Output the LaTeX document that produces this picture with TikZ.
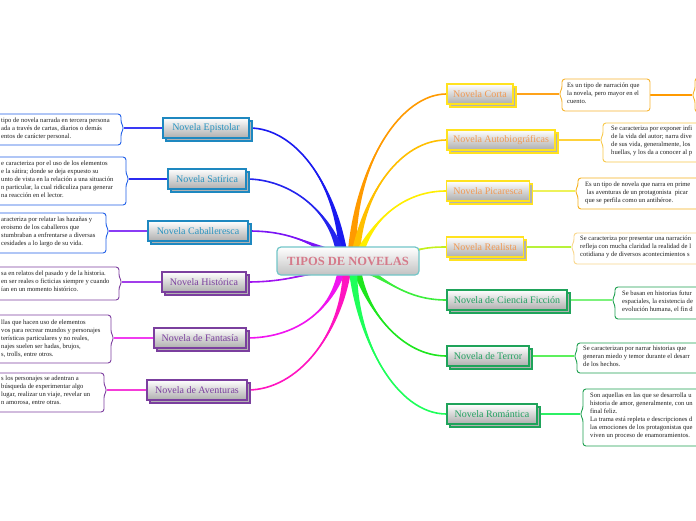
\documentclass[tikz,border=0pt]{standalone}
\usepackage{fontspec}
\setmainfont{Liberation Serif}
\usetikzlibrary{calc,shadows}
\pgfdeclarelayer{back}
\pgfdeclarelayer{bg}
\pgfsetlayers{back,bg,main}
% node colours
\definecolor{nblue}{HTML}{1E88C0}
\definecolor{tblue}{HTML}{2A93BF}
\definecolor{npurp}{HTML}{7B3F9E}
\definecolor{nyel}{HTML}{FFE21F}
\definecolor{tora}{HTML}{F09A55}
\definecolor{ngreen}{HTML}{1FA35A}
\definecolor{tgreen}{HTML}{22A060}
\definecolor{cteal}{HTML}{72C6C8}
\definecolor{cpink}{HTML}{D57A8A}
% description box colours
\definecolor{dblue}{HTML}{2060E8}
\definecolor{dpurp}{HTML}{7E3FA0}
\definecolor{dora}{HTML}{F7B531}
\definecolor{dyel}{HTML}{F8C94A}
\definecolor{dora2}{HTML}{F6B21E}
\definecolor{dlight}{HTML}{F9D78C}
\definecolor{dgreen}{HTML}{1FA050}
% thin links
\definecolor{lEp}{HTML}{3A3AF5}
\definecolor{lSa}{HTML}{2B2BF0}
\definecolor{lCa}{HTML}{8A3CF5}
\definecolor{lHi}{HTML}{A23EEA}
\definecolor{lFa}{HTML}{F03CF0}
\definecolor{lAv}{HTML}{F43CD8}
\definecolor{lCo}{HTML}{FFA31A}
\definecolor{lAu}{HTML}{FFD23A}
\definecolor{lPi}{HTML}{EEF25A}
\definecolor{lRe}{HTML}{B8F23A}
\definecolor{lCi}{HTML}{7CF27C}
\definecolor{lTe}{HTML}{5CF05C}
\definecolor{lRo}{HTML}{2CF064}
% thick branches
\definecolor{bEp}{HTML}{1A1AF0}
\definecolor{bSa}{HTML}{2424EE}
\definecolor{bCa}{HTML}{7A14F5}
\definecolor{bHi}{HTML}{A014F0}
\definecolor{bFa}{HTML}{F014F0}
\definecolor{bAv}{HTML}{FF14C0}
\definecolor{bCo}{HTML}{FF9A00}
\definecolor{bAu}{HTML}{FFBF00}
\definecolor{bPi}{HTML}{FFEE00}
\definecolor{bRe}{HTML}{C4F01C}
\definecolor{bCi}{HTML}{3CEE3C}
\definecolor{bTe}{HTML}{1EE61E}
\definecolor{bRo}{HTML}{1EFF5A}

\tikzset{
  topic/.style={draw=#1, line width=1.2pt, top color=white, bottom color=black!32,
    minimum height=20pt, inner sep=0pt, font=\fontsize{10}{12}\selectfont,
    general shadow={shadow xshift=3pt, shadow yshift=-3pt, fill=black!30, draw=#1, line width=1.2pt}},
  hub/.style={draw=cteal, line width=1.2pt, rounded corners=4pt, top color=white, bottom color=black!24,
    minimum width=142pt, minimum height=28pt, inner sep=0pt, text=cpink,
    font=\bfseries\fontsize{12.5}{14}\selectfont},
  descbox/.style={draw=#1, fill=white, line width=0.9pt, rounded corners=3pt},
  dtext/.style={anchor=north west, inner sep=0pt, align=left, text=black!88,
    font=\fontsize{6.6}{8}\selectfont, execute at begin node=\strut},
  lnk/.style={draw=#1, line width=1.1pt},
}

% tapered branch: colour, start, c1 offset, c2 offset, end, half width
\newcommand\branch[6]{%
  \fill[#1] (#2) .. controls ($(#2)+(#3)$) and ($(#5)+(#4)$) .. ($(#5)+(#6)$)
     -- ($(#5)-(#6)$) .. controls ($(#5)+(#4)$) and ($(#2)+(#3)$) .. (#2) -- cycle;
  \draw[#1, line width=1.6pt] (#2) .. controls ($(#2)+(#3)$) and ($(#5)+(#4)$) .. (#5);}
% description box with notch on the right: colour, right x, top, bottom, notch y
\newcommand\ldescbox[5]{%
  \draw[descbox=#1] (-20,#3) -- (#2,#3) -- (#2,#5-5) -- (#2+3,#5) -- (#2,#5+5) -- (#2,#4) -- (-20,#4) -- cycle;}
% description box with notch on the left: colour, left x, top, bottom, notch y
\newcommand\rdescbox[5]{%
  \draw[descbox=#1] (#2,#3) -- (730,#3) -- (730,#4) -- (#2,#4) -- (#2,#5+5) -- (#2-3,#5) -- (#2,#5-5) -- cycle;}

\begin{document}
\begin{tikzpicture}[x=1pt,y=-1pt]
\useasboundingbox (0,0) rectangle (696,520);
\begin{pgfonlayer}{back}
\fill[white] (0,0) rectangle (696,520);
\end{pgfonlayer}
\clip (0,0) rectangle (696,520);

% ---------- description boxes (left) ----------
\ldescbox{dblue}{121}{114}{145}{128}
\coordinate (epn) at (124,128);
\node[dtext] (ept) at (1,118) {tipo de novela narrada en tercera persona\\ada a través de cartas, diarios o demás\\entos de carácter personal.};
\ldescbox{dblue}{126}{157}{205}{179}
\coordinate (san) at (129,179);
\node[dtext] (sat) at (1,161) {e caracteriza por el uso de los elementos\\e la sátira; donde se deja expuesto su\\unto de vista en la relación a una situación\\n particular, la cual ridiculiza para generar\\na reacción en el lector.};
\ldescbox{dblue}{106}{213}{253}{231}
\coordinate (can) at (109,231);
\node[dtext] (cat) at (1,217) {aracteriza por relatar las hazañas y\\eroismo de los caballeros que\\stumbraban a enfrentarse a diversas\\cesidades a lo largo de su vida.};
\ldescbox{dpurp}{119}{267}{300}{282}
\coordinate (hin) at (122,282);
\node[dtext] (hit) at (1,271) {sa en relatos del pasado y de la historia.\\en ser reales o ficticias siempre y cuando\\ían en un momento histórico.};
\ldescbox{dpurp}{111}{315}{363}{338}
\coordinate (fan) at (114,338);
\node[dtext] (fat) at (1,320) {llas que hacen uso de elementos\\vos para recrear mundos y personajes\\terísticas particulares y no reales,\\najes suelen ser hadas, brujos,\\s, trolls, entre otros.};
\ldescbox{dpurp}{104}{373}{412}{390}
\coordinate (avn) at (107,390);
\node[dtext] (avt) at (1,376) {s los personajes se adentran a\\búsqueda de experimentar algo\\lugar, realizar un viaje, revelar un\\n amorosa, entre otras.};

% ---------- description boxes (right) ----------
\draw[descbox=dora] (562,79) -- (650,79) -- (650,111) -- (562,111) -- (562,99) -- (559,94) -- (562,89) -- cycle;
\coordinate (con) at (559,94);
\coordinate (cor) at (650,95);
\node[dtext] (cot) at (567,83) {Es un tipo de narración que\\la novela, pero mayor en el\\cuento.};
\draw[descbox=dora] (695,78) -- (730,78) -- (730,112) -- (695,112) -- (695,100) -- (692,95) -- (695,90) -- cycle;
\coordinate (co2n) at (692,95);
\rdescbox{dyel}{603}{123}{162}{140}
\coordinate (aun) at (600,140);
\node[dtext] (aut) at (611,125.5) {Se caracteriza por exponer infi\\de la vida del autor; narra dive\\de sus vida, generalmente, los\\huellas, y los da a conocer al p};
\rdescbox{dora2}{578}{178}{209}{191}
\coordinate (pin) at (575,191);
\node[dtext] (pit) at (585,182) {Es un tipo de novela que narra en prime\\\ las aventuras de un protagonista\ \ picar\\que se perfila como un antihéroe.};
\rdescbox{dlight}{574}{233}{264}{247}
\coordinate (ren) at (571,247);
\node[dtext] (ret) at (580,236) {Se caracteriza por presentar una narración\\refleja con mucha claridad la realidad de l\\cotidiana y de diversos acontecimientos s};
\rdescbox{dgreen}{615}{287}{319}{300}
\coordinate (cin) at (612,300);
\node[dtext] (cit) at (622,291) {Se basan en historias futur\\espaciales, la existencia de\\evolución humana, el fin d};
\rdescbox{dgreen}{577}{343}{373}{356}
\coordinate (ten) at (574,356);
\node[dtext] (tet) at (583,346) {Se caracterizan por narrar historias que\\generan miedo y temor durante el desarr\\de los hechos.};
\rdescbox{dgreen}{583}{389}{446}{414}
\coordinate (ron) at (580,414);
\node[dtext] (rot) at (590,393) {Son aquellas en las que se desarrolla u\\historia de amor, generalmente, con un\\final feliz.\\La trama está repleta e descripciones d\\las emociones de los protagonistas que\\viven un proceso de enamoramientos.};

% ---------- topic nodes ----------
\node[topic=nblue, text=tblue, minimum width=86pt] (ep) at (206,128) {Novela Epistolar};
\node[topic=nblue, text=tblue, minimum width=78pt] (sa) at (207,179) {Novela Satírica};
\node[topic=nblue, text=tblue, minimum width=100pt] (ca) at (198,231) {Novela Caballeresca};
\node[topic=npurp, text=npurp, minimum width=84pt] (hi) at (204,282) {Novela Histórica};
\node[topic=npurp, text=npurp, minimum width=92pt] (fa) at (200,338) {Novela de Fantasía};
\node[topic=npurp, text=npurp, minimum width=100pt] (av) at (197,390) {Novela de Aventuras};
\node[topic=nyel, text=tora, minimum width=66pt] (co) at (480,94) {Novela Corta};
\node[topic=nyel, text=tora, minimum width=108pt] (au) at (501,140) {Novela Autobiográficas};
\node[topic=nyel, text=tora, minimum width=83pt] (pi) at (488,191) {Novela Picaresca};
\node[topic=nyel, text=tora, minimum width=77pt] (re) at (485,247) {Novela Realista};
\node[topic=ngreen, text=tgreen, minimum width=120pt] (ci) at (507,300) {Novela de Ciencia Ficción};
\node[topic=ngreen, text=tgreen, minimum width=82pt] (te) at (488,356) {Novela de Terror};
\node[topic=ngreen, text=tgreen, minimum width=90pt] (ro) at (492,414) {Novela Romántica};

% ---------- central topic ----------
\node[hub] (c) at (348,261) {TIPOS DE NOVELAS};

% ---------- connectors ----------
\begin{pgfonlayer}{bg}
\draw[lnk=lEp] (ep.west) -- (epn);
\draw[lnk=lSa] (sa.west) -- (san);
\draw[lnk=lCa] (ca.west) -- (can);
\draw[lnk=lHi] (hi.west) -- (hin);
\draw[lnk=lFa] (fa.west) -- (fan);
\draw[lnk=lAv] (av.west) -- (avn);
\draw[lnk=lCo] (co.east) -- (con);
\draw[lnk=bCo] (cor) -- (co2n);
\draw[lnk=lAu] (au.east) -- (aun);
\draw[lnk=lPi] (pi.east) -- (pin);
\draw[lnk=lRe] (re.east) -- (ren);
\draw[lnk=lCi] (ci.east) -- (cin);
\draw[lnk=lTe] (te.east) -- (ten);
\draw[lnk=lRo] (ro.east) -- (ron);

\coordinate (kEp) at (343,252);
\coordinate (kSa) at (340,252);
\coordinate (kCa) at (335,254);
\coordinate (kHi) at (335,268);
\coordinate (kFa) at (342,270);
\coordinate (kAv) at (347,270);
\coordinate (kCo) at (352,252);
\coordinate (kAu) at (356,252);
\coordinate (kPi) at (360,252);
\coordinate (kRe) at (400,255);
\coordinate (kCi) at (362,268);
\coordinate (kTe) at (357,270);
\coordinate (kRo) at (353,270);

\branch{bEp}{ep.east}{45,0}{-8,-70}{kEp}{4.2,0}
\branch{bSa}{sa.east}{40,0}{-12,-45}{kSa}{4.2,0}
\branch{bCa}{ca.east}{40,0}{-30,-12}{kCa}{-1.5,3.8}
\branch{bHi}{hi.east}{40,0}{-30,6}{kHi}{0.8,4}
\branch{bFa}{fa.east}{45,0}{-12,45}{kFa}{4.2,0}
\branch{bAv}{av.east}{50,0}{-6,65}{kAv}{4.2,0}
\branch{bCo}{co.west}{-45,0}{4,-90}{kCo}{4.2,0}
\branch{bAu}{au.west}{-45,0}{8,-60}{kAu}{4.2,0}
\branch{bPi}{pi.west}{-40,0}{15,-35}{kPi}{4.2,0}
\branch{bRe}{re.west}{-20,0}{20,-6}{kRe}{0,4}
\branch{bCi}{ci.west}{-40,0}{25,12}{kCi}{1.7,-3.6}
\branch{bTe}{te.west}{-45,0}{10,40}{kTe}{4.2,0}
\branch{bRo}{ro.west}{-50,0}{4,70}{kRo}{4.2,0}
\end{pgfonlayer}
\end{tikzpicture}
\end{document}
